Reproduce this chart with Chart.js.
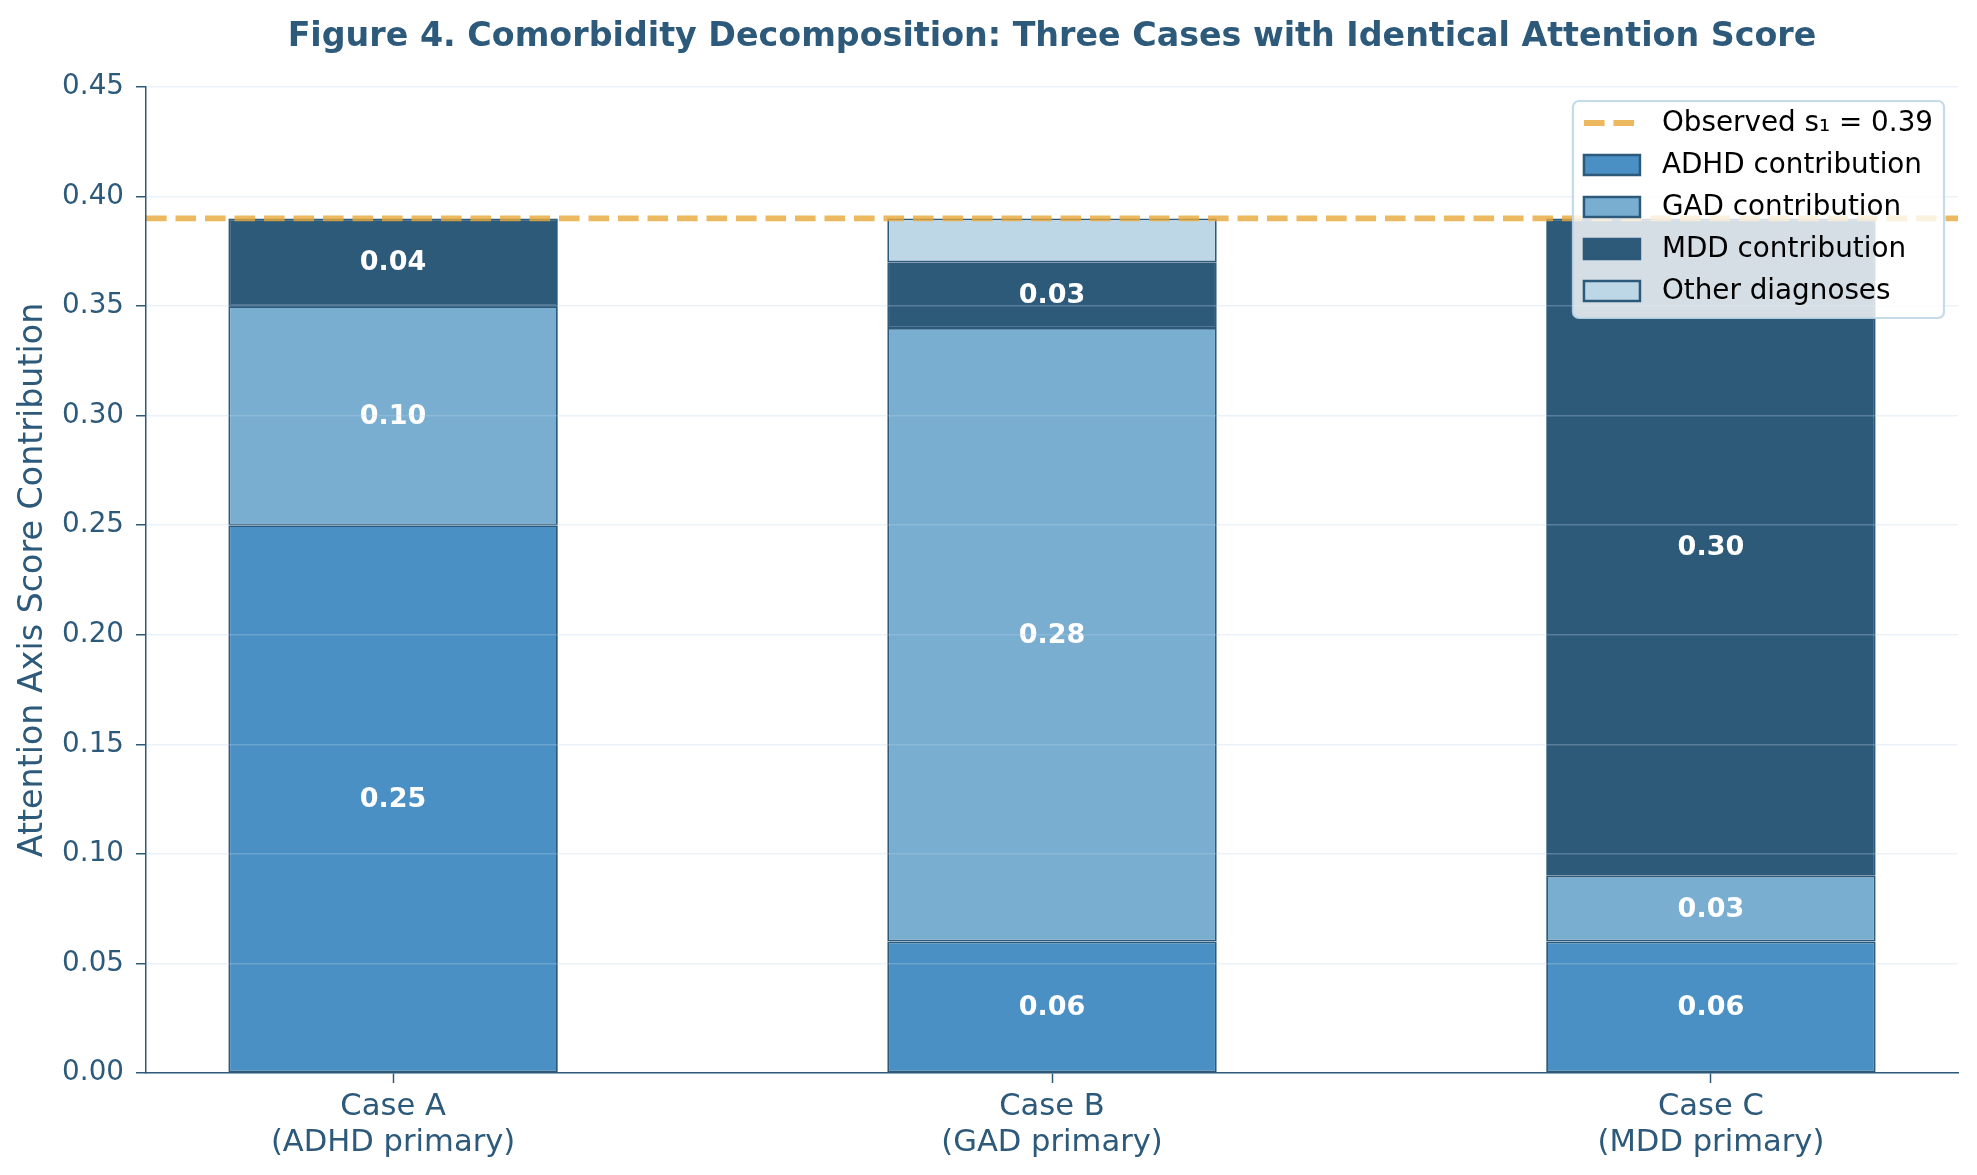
<!DOCTYPE html>
<html>
<head>
<meta charset="utf-8">
<title>Figure 4. Comorbidity Decomposition</title>
<script src="https://cdn.jsdelivr.net/npm/chart.js@4.4.1/dist/chart.umd.min.js"></script>
<style>
  html, body { margin: 0; padding: 0; background: #fff; }
  #wrap { width: 1977px; height: 1175px; }
</style>
</head>
<body>
<div id="wrap"><canvas id="chart" width="1977" height="1175"></canvas></div>
<script>
// values
const caseNames = ['Case A', 'Case B', 'Case C'];
const casePrimary = ['(ADHD primary)', '(GAD primary)', '(MDD primary)'];
const adhd = [0.25, 0.06, 0.06];
const gad = [0.10, 0.28, 0.03];
const mdd = [0.04, 0.03, 0.30];
const other = [0.00, 0.02, 0.00];
const observed = 0.39;
const yTicks = [0.00, 0.05, 0.10, 0.15, 0.20, 0.25, 0.30, 0.35, 0.40, 0.45];

const titleText = 'Figure 4. Comorbidity Decomposition: Three Cases with Identical Attention Score';
const navy = '#2d5a7b';
const font = '"DejaVu Sans", sans-serif';
const labelMin = 0.02; // segments this small get no value label

const xMin = -0.375;
const xMax = 2.375;

const barSet = (label, values, color) => ({
  type: 'bar',
  label: label,
  data: values.map((v, i) => ({ x: i, y: v })),
  backgroundColor: color,
  borderColor: navy,
  borderWidth: 1.8,
  borderSkipped: false,
  inflateAmount: 0,
  stack: 'cases',
  order: 1
});

const datasets = [
  {
    type: 'line',
    label: 'Observed s\u2081 = ' + observed.toFixed(2),
    data: [{ x: xMin, y: observed }, { x: xMax, y: observed }],
    borderColor: 'rgba(232,168,56,0.8)',
    borderWidth: 5.8,
    borderDash: [20.6, 8.9],
    pointRadius: 0,
    fill: false,
    stack: 'ref',
    order: 0
  },
  barSet('ADHD contribution', adhd, '#4a90c4'),
  barSet('GAD contribution', gad, '#7aaed0'),
  barSet('MDD contribution', mdd, '#2e5a7a'),
  barSet('Other diagnoses', other, '#bed7e7')
];

// title centred over the plot area, like the original figure
const figTitle = {
  id: 'figTitle',
  afterDraw(chart) {
    const { ctx, chartArea } = chart;
    ctx.save();
    ctx.font = 'bold 33.3px ' + font;
    ctx.fillStyle = navy;
    ctx.textAlign = 'center';
    ctx.textBaseline = 'alphabetic';
    ctx.fillText(titleText, (chartArea.left + chartArea.right) / 2, 46);
    ctx.restore();
  }
};

const segmentLabels = {
  id: 'segmentLabels',
  afterDatasetsDraw(chart) {
    const { ctx } = chart;
    ctx.save();
    ctx.font = 'bold 27px ' + font;
    ctx.fillStyle = '#ffffff';
    ctx.textAlign = 'center';
    ctx.textBaseline = 'middle';
    chart.data.datasets.forEach((ds, di) => {
      if (ds.type !== 'bar') return;
      const meta = chart.getDatasetMeta(di);
      meta.data.forEach((bar, i) => {
        const v = ds.data[i].y;
        if (v <= labelMin) return;
        ctx.fillText(v.toFixed(2), bar.x, (bar.y + bar.base) / 2 + 1);
      });
    });
    ctx.restore();
  }
};

// matplotlib-style legend box in the upper right of the plot area
const boxLegend = {
  id: 'boxLegend',
  afterDraw(chart) {
    const { ctx, chartArea } = chart;
    const size = 27.8;
    const pad = 11;
    const handleW = 56;
    const rowGap = 42;
    ctx.save();
    ctx.font = size + 'px ' + font;
    const items = chart.data.datasets;
    const textW = Math.max(...items.map(d => ctx.measureText(d.label).width));
    const w = pad + handleW + 22 + textW + pad;
    const h = 217;
    const right = chartArea.right - 14;
    const top = chartArea.top + 14;
    const left = right - w;

    ctx.beginPath();
    ctx.roundRect(left, top, w, h, 6);
    ctx.fillStyle = 'rgba(255,255,255,0.8)';
    ctx.fill();
    ctx.lineWidth = 2.2;
    ctx.strokeStyle = 'rgba(190,215,232,0.9)';
    ctx.stroke();

    items.forEach((d, i) => {
      const cy = top + 22 + i * rowGap;
      const hx = left + pad;
      if (d.type === 'line') {
        ctx.beginPath();
        ctx.setLineDash(d.borderDash);
        ctx.lineWidth = d.borderWidth;
        ctx.strokeStyle = d.borderColor;
        ctx.moveTo(hx, cy);
        ctx.lineTo(hx + handleW, cy);
        ctx.stroke();
        ctx.setLineDash([]);
      } else {
        ctx.fillStyle = d.backgroundColor;
        ctx.fillRect(hx, cy - 10, handleW, 20);
        ctx.lineWidth = 2.5;
        ctx.strokeStyle = d.borderColor;
        ctx.strokeRect(hx, cy - 10, handleW, 20);
      }
      ctx.fillStyle = '#000000';
      ctx.textAlign = 'left';
      ctx.textBaseline = 'middle';
      ctx.fillText(d.label, hx + handleW + 22, cy + 1);
    });
    ctx.restore();
  }
};

new Chart(document.getElementById('chart'), {
  type: 'bar',
  data: { datasets: datasets },
  options: {
    responsive: false,
    devicePixelRatio: 1,
    animation: false,
    layout: { padding: { top: 87, right: 19, bottom: 0, left: 0 } },
    datasets: {
      bar: { barPercentage: 0.5, categoryPercentage: 1.0 }
    },
    plugins: {
      legend: { display: false },
      tooltip: { enabled: false },
      title: { display: false }
    },
    scales: {
      x: {
        type: 'linear',
        min: xMin,
        max: xMax,
        offset: false,
        stacked: true,
        afterBuildTicks: (scale) => {
          scale.ticks = caseNames.map((_, i) => ({ value: i }));
        },
        afterFit: (scale) => { scale.height = 102; },
        ticks: {
          callback: (v) => [caseNames[v], casePrimary[v]],
          color: navy,
          font: { family: font, size: 30.6, lineHeight: 1.18 },
          padding: 6,
          maxRotation: 0,
          autoSkip: false
        },
        grid: {
          offset: false,
          drawOnChartArea: false,
          drawTicks: true,
          tickLength: 10,
          tickColor: navy,
          tickWidth: 1.5
        },
        border: { color: navy, width: 1.5, z: 2 }
      },
      y: {
        min: 0,
        max: 0.45,
        stacked: true,
        afterBuildTicks: (scale) => {
          scale.ticks = yTicks.map(v => ({ value: v }));
        },
        afterFit: (scale) => { scale.width = 146; },
        ticks: {
          callback: (v) => v.toFixed(2),
          color: navy,
          font: { family: font, size: 27.8 },
          padding: 12
        },
        grid: {
          color: 'rgba(184,210,232,0.3)',
          lineWidth: 1.5,
          z: 1,
          drawTicks: true,
          tickLength: 10,
          tickColor: navy,
          tickWidth: 1.5
        },
        border: { color: navy, width: 1.5, z: 2 },
        title: {
          display: true,
          text: 'Attention Axis Score Contribution',
          color: navy,
          font: { family: font, size: 33.3 },
          padding: { top: 13.5, bottom: 0 }
        }
      }
    }
  },
  plugins: [segmentLabels, figTitle, boxLegend]
});
</script>
</body>
</html>
